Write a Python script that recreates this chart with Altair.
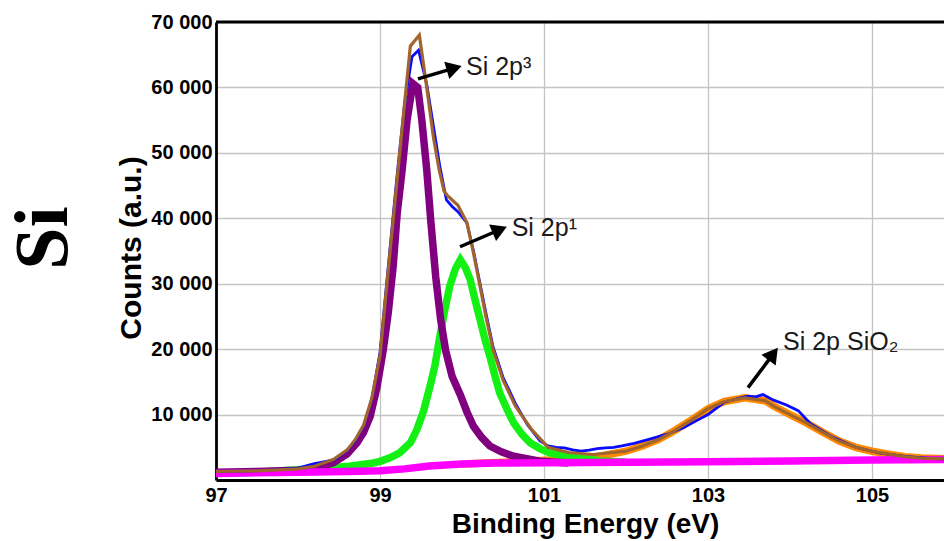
import altair as alt
import pandas as pd

# ---------------- data ----------------
# measured spectrum (blue)
blue_e = [97.0, 97.5, 98.0, 98.2, 98.3, 98.45, 98.6, 98.7, 98.8, 98.9, 99.0, 99.1, 99.2, 99.3, 99.39,
          99.47, 99.57, 99.64, 99.73, 99.81, 99.88, 99.95, 100.06, 100.14, 100.22, 100.3, 100.38, 100.5,
          100.65, 100.8, 100.95, 101.05, 101.15, 101.25, 101.35, 101.45, 101.55, 101.65, 101.75, 101.85,
          101.95, 102.1, 102.3, 102.5, 102.7, 102.85, 103.0, 103.2, 103.35, 103.48, 103.58, 103.67, 103.8,
          103.95, 104.1, 104.25, 104.5, 104.8, 105.1, 105.4, 105.7, 105.878]
blue_c = [1300, 1400, 1800, 2500, 2750, 3100, 4500, 6000, 8200, 12300, 19500, 32500, 45500, 57500, 64700,
          65700, 60500, 55000, 47900, 42800, 41800, 41000, 39300, 35000, 30000, 25000, 20300, 15700,
          11700, 8400, 6000, 5200, 5000, 4900, 4600, 4400, 4550, 4800, 4900, 5000,
          5200, 5600, 6300, 7000, 8000, 9000, 10000, 11900, 12400, 12800, 12700, 13050, 12200,
          11500, 10600, 8600, 6700, 5000, 4100, 3600, 3300, 3200]

# fitted envelope (brown)
env_e = [97.0, 97.5, 98.0, 98.2, 98.43, 98.6, 98.7, 98.8, 98.9, 99.0, 99.1, 99.2, 99.3, 99.37, 99.48,
         99.57, 99.65, 99.72, 99.78, 99.82, 99.95, 100.06, 100.14, 100.22, 100.3, 100.38, 100.5, 100.65,
         100.85, 101.05, 101.3, 101.6, 102.0, 102.2, 102.4, 102.6, 102.8, 103.0, 103.2, 103.45, 103.7,
         103.8, 104.0, 104.2, 104.4, 104.6, 104.8, 105.0, 105.2, 105.4, 105.6, 105.878]
env_c = [1300, 1400, 1700, 2100, 3130, 4600, 6200, 8400, 12500, 19000, 32000, 44800, 57600, 66300, 68000,
         60000, 52500, 47500, 44200, 43500, 42000, 39300, 34700, 29600, 24500, 19900, 15300, 11300,
         7700, 5000, 4200, 3900, 4400, 5200, 6200, 7600, 9200, 10900, 12000, 12550, 12100,
         11300, 10000, 8730, 7300, 5950, 5000, 4400, 3950, 3550, 3350, 3240]

# Si 2p3/2 component (purple)
pur_e = [97.0, 97.5, 98.0, 98.2, 98.43, 98.6, 98.72, 98.8, 98.88, 98.96, 99.04, 99.1, 99.16, 99.21, 99.27,
         99.33, 99.40, 99.46, 99.51, 99.57, 99.62, 99.68, 99.74, 99.8, 99.88, 99.98, 100.06, 100.14,
         100.24, 100.34, 100.48, 100.63, 100.95, 101.3]
pur_c = [1200, 1300, 1500, 1800, 2630, 4000, 5680, 7300, 9740, 14000, 19900, 25500, 32600, 40800, 47400,
         55000, 60600, 60000, 55000, 47400, 39500, 31000, 24500, 19800, 15800, 13000, 10400, 8200,
         6500, 5200, 4300, 3630, 2870, 2600]

# Si 2p1/2 component (green)
grn_e = [97.0, 97.5, 98.0, 98.3, 98.63, 98.92, 99.0, 99.12, 99.24, 99.37, 99.45, 99.53, 99.61, 99.67,
         99.73, 99.79, 99.85, 99.92, 99.98, 100.04, 100.10, 100.16, 100.22, 100.28, 100.34, 100.40,
         100.46, 100.55, 100.63, 100.73, 100.83, 100.95, 101.07, 101.36, 101.7, 102.0]
grn_c = [1000, 1200, 1550, 1800, 2100, 2600, 2850, 3400, 4150, 5680, 7710, 10500, 14320, 17500,
         21950, 26000, 29590, 32300, 33660, 32500, 30610, 27500, 24500, 21500, 18900, 16000,
         13310, 10800, 8730, 7000, 5680, 4800, 4150, 3390, 2900, 2700]

# SiO2 component (orange)
org_e = [100.0, 100.6, 100.9, 101.2, 101.6, 102.0, 102.2, 102.4, 102.6, 102.8, 103.0, 103.2, 103.45,
         103.7, 103.8, 104.0, 104.2, 104.4, 104.6, 104.8, 105.0, 105.2, 105.4, 105.6, 105.878]
org_c = [2450, 2750, 2950, 3150, 3450, 4400, 5200, 6200, 7600, 9200, 10900, 12000, 12550,
         12100, 11300, 10000, 8730, 7300, 5950, 5000, 4400, 3950, 3550, 3350, 3240]

# background (magenta)
bg_e = [97.0, 98.0, 98.6, 99.0, 99.3, 99.6, 100.0, 100.4, 101.0, 102.0, 103.0, 104.0, 105.0, 105.878]
bg_c = [1000, 1200, 1300, 1400, 1700, 2150, 2450, 2600, 2650, 2700, 2800, 2900, 3050, 3130]

# annotations
lab_text = ["Si 2p³", "Si 2p¹", "Si 2p SiO₂"]
lab_e = [100.049, 100.606, 103.915]
lab_c = [61910, 37220, 19920]
arr_e0 = [99.463, 99.976, 103.488]
arr_c0 = [61300, 35650, 14120]
arr_e1 = [99.905, 100.46, 103.795]
arr_c1 = [62950, 38250, 19250]
arr_ang = [343.5, 337, 307]

x_ticks = [97, 99, 101, 103, 105]
y_ticks = [10000, 20000, 30000, 40000, 50000, 60000, 70000]

# ---------------- chart ----------------
W, H = 728, 458
FONT = "Liberation Sans"

xs = alt.Scale(domain=[97, 105.878], nice=False, zero=False)
ys = alt.Scale(domain=[0, 70000], nice=False, zero=False)

x_axis = alt.Axis(values=x_ticks, format="d", title="Binding Energy (eV)", labelFont=FONT, labelFontSize=20,
                  labelFontWeight="bold", labelColor="black", labelPadding=5, ticks=False,
                  domainColor="black", domainWidth=2.8, gridColor="#c4c4c4", gridWidth=1.3,
                  titleFont=FONT, titleFontSize=28, titleFontWeight="bold", titleColor="black",
                  titleX=369, titleY=44, titleBaseline="middle", titleAlign="center",
                  labelFlush=False)
y_axis = alt.Axis(values=y_ticks, labelExpr="replace(format(datum.value, ','), ',', ' ')",
                  title="Counts (a.u.)", labelFont=FONT, labelFontSize=20, labelFontWeight="bold",
                  labelColor="black", labelPadding=4, ticks=False, domainColor="black", domainWidth=2.8,
                  gridColor="#c4c4c4", gridWidth=1.3, titleFont=FONT, titleFontSize=30,
                  titleFontWeight="bold", titleColor="black", titleAngle=270, titleX=-85, titleY=225.5,
                  titleBaseline="middle", titleAlign="center", labelFlush=False)


def series(e, c, color, width):
    d = pd.DataFrame({"E": e, "C": c})
    return alt.Chart(d).mark_line(color=color, strokeWidth=width, clip=True).encode(
        x=alt.X("E:Q", scale=xs, axis=x_axis),
        y=alt.Y("C:Q", scale=ys, axis=y_axis),
    )


org = series(org_e, org_c, "#ff8a00", 7.5)
grn = series(grn_e, grn_c, "#14f014", 7.5)
pur = series(pur_e, pur_c, "#800080", 7.5)
bg = series(bg_e, bg_c, "#ff00ff", 7.5)
blu = series(blue_e, blue_c, "#0a0aff", 2.8)
env = series(env_e, env_c, "#a0642c", 3.2)

lab_df = pd.DataFrame({"E": lab_e, "C": lab_c, "label": lab_text})
labels = alt.Chart(lab_df).mark_text(align="left", baseline="alphabetic", font=FONT, fontSize=25,
                                     color="#1a1a1a").encode(
    x=alt.X("E:Q", scale=xs), y=alt.Y("C:Q", scale=ys), text="label:N")

arr_df = pd.DataFrame({"E0": arr_e0, "C0": arr_c0, "E1": arr_e1, "C1": arr_c1, "ang": arr_ang})
shafts = alt.Chart(arr_df).mark_rule(color="black", strokeWidth=3.5).encode(
    x=alt.X("E0:Q", scale=xs), y=alt.Y("C0:Q", scale=ys), x2="E1:Q", y2="C1:Q")
heads = alt.Chart(arr_df).mark_point(shape="triangle-right", filled=True, size=320, color="black",
                                     opacity=1).encode(
    x=alt.X("E1:Q", scale=xs), y=alt.Y("C1:Q", scale=ys), angle=alt.Angle("ang:Q", scale=None))

top_border = alt.Chart(pd.DataFrame({"a": [0]})).mark_rule(color="black", strokeWidth=2.8).encode(
    x=alt.value(0), x2=alt.value(W), y=alt.value(0))

si_title = alt.Chart(pd.DataFrame({"t": ["Si"]})).mark_text(
    font="Liberation Serif", fontWeight="bold", fontSize=76, angle=270, align="center",
    baseline="alphabetic", color="black").encode(
    x=alt.value(-149), y=alt.value(216), text="t:N")

chart = alt.layer(org, grn, pur, bg, blu, env, shafts, heads, labels, top_border, si_title).properties(
    width=W, height=H,
    padding={"left": 216, "top": 22, "right": 0, "bottom": 61},
    autosize="none",
    background="white",
).configure_view(strokeWidth=0)

chart.save("out.html", embed_options={"renderer": "svg", "actions": False})
